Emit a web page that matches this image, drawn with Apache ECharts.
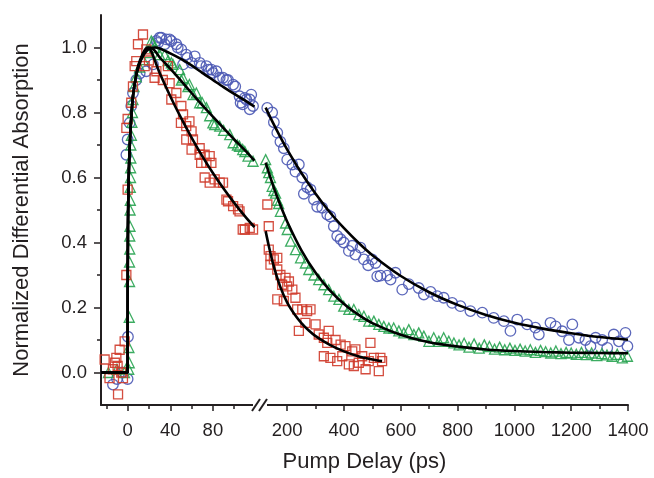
<!DOCTYPE html>
<html>
<head>
<meta charset="utf-8">
<script src="https://cdn.jsdelivr.net/npm/echarts@6/dist/echarts.min.js"></script>
<style>
html,body{margin:0;padding:0;background:#fff;}
#chart{width:654px;height:478px;}
</style>
</head>
<body>
<div id="chart"></div>
<script>
// ---- tick values ----
const yMajorTicks = [0, 0.2, 0.4, 0.6, 0.8, 1.0];
const yMinorTicks = [0.1, 0.3, 0.5, 0.7, 0.9];
const xLeftMajor = [0, 40, 80];
const xLeftMinor = [-20, 20, 60, 100];
const xRightMajor = [200, 400, 600, 800, 1000, 1200, 1400];
const xRightMinor = [300, 500, 700, 900, 1100, 1300];

// ---- data: [delay (ps), normalized absorption] ----
const blueLeft = [[-13.8,-0.037],[-10,-0.02],[-5,0.0],[0,-0.02],[0.3,0.11],[-1.2,0.67],[0,0.717],[1.9,0.768],[3.4,0.82],[5,0.86],[8.1,0.90],[11.3,0.92],[17.5,0.927],[23.8,0.948],[28.5,1.014],[27,1.02],[30,1.03],[31.6,1.03],[34.7,1.01],[36.3,1.025],[39.4,1.025],[41,1.02],[45.7,1.01],[47,1.0],[50.4,0.994],[52,0.948],[55,0.978],[56,0.968],[60,0.953],[63,0.973],[67.6,0.953],[69,0.943],[73.9,0.943],[76,0.932],[78.6,0.932],[80,0.922],[83.3,0.927],[86.4,0.907],[89.5,0.907],[92.7,0.90],[94.2,0.90],[99,0.886],[101,0.88],[105,0.85],[106,0.83],[108,0.825],[110,0.845],[111.4,0.84],[114.6,0.84],[116,0.855],[117.7,0.82],[114.6,0.81]];
const greenLeft = [[-18,0.0],[-10,0.01],[-3,0.0],[1,0.01],[1.5,0.03],[1.2,0.077],[1.5,0.17],[1.8,0.28],[1.8,0.34],[2,0.38],[2,0.42],[2.2,0.45],[2.3,0.5],[2.5,0.53],[2.5,0.57],[2.7,0.6],[2.8,0.63],[3,0.66],[3,0.7],[3.5,0.73],[4,0.77],[4.5,0.8],[5,0.84],[6,0.88],[8.1,0.91],[11.3,0.94],[14.4,0.963],[19,0.984],[22.2,1.02],[23.8,1.014],[25.3,1.0],[30,0.978],[34.7,0.978],[38,0.96],[41,0.953],[42.5,0.948],[48.8,0.932],[50.4,0.90],[52,0.907],[56.6,0.88],[58,0.886],[61.3,0.855],[64.5,0.86],[67.6,0.83],[70,0.83],[73.9,0.815],[77,0.79],[80,0.768],[81.7,0.763],[86.4,0.758],[90,0.745],[95.8,0.732],[99,0.707],[103,0.70],[105,0.696],[108,0.686],[110,0.68],[113,0.666],[117.7,0.65]];
const redLeft = [[-21.6,0.04],[-17,-0.017],[-13.8,0.01],[-12,0.03],[-10.6,0.045],[-9.4,0.02],[-9,-0.067],[-7.5,0.07],[-6,0.0],[-4.4,-0.017],[-2.8,0.096],[-1.2,0.30],[-1.2,0.753],[0,0.563],[0,0.78],[3.4,0.83],[5,0.88],[6.6,0.943],[8.1,0.958],[9.7,1.01],[14.4,1.04],[16,0.943],[17.5,0.994],[20,0.96],[25.3,0.907],[27,0.927],[33,0.90],[37.8,0.943],[39.4,0.89],[41,0.84],[45.7,0.86],[50,0.768],[50.4,0.82],[52,0.794],[55,0.758],[55,0.717],[58,0.773],[60,0.742],[60,0.686],[61.3,0.717],[67.6,0.69],[67.6,0.67],[69,0.645],[72.3,0.6],[72.3,0.67],[73.9,0.645],[77,0.666],[77,0.584],[78.6,0.645],[81.7,0.594],[86.4,0.584],[89.5,0.584],[92.7,0.532],[94.2,0.527],[99,0.512],[103.6,0.502],[105,0.496],[108,0.44],[110,0.44],[114.6,0.445],[117.7,0.44]];

const blueRight = [[129.6,0.814],[147,0.80],[153,0.77],[165,0.738],[176,0.71],[188,0.69],[200,0.655],[218,0.64],[229,0.618],[241,0.64],[253,0.60],[258.6,0.55],[270,0.57],[282,0.563],[294,0.532],[305.6,0.51],[323,0.507],[341,0.486],[352,0.48],[364,0.45],[376,0.42],[388,0.41],[399,0.40],[417,0.374],[429,0.39],[440,0.363],[458,0.384],[470,0.348],[485,0.33],[499,0.348],[511,0.337],[517,0.296],[528.5,0.298],[552,0.298],[564,0.286],[581,0.307],[605,0.255],[628,0.272],[663,0.26],[681,0.24],[705,0.248],[728,0.235],[751,0.23],[781,0.214],[810,0.204],[845,0.189],[887,0.184],[927,0.168],[963,0.158],[986,0.128],[1010,0.163],[1045,0.148],[1074,0.138],[1086,0.117],[1127,0.153],[1145,0.142],[1168,0.127],[1192,0.10],[1204,0.148],[1227,0.107],[1250,0.10],[1268,0.081],[1286,0.107],[1309,0.10],[1327,0.076],[1350,0.117],[1368,0.096],[1391,0.122],[1398,0.081]];
const greenRight = [[124,0.655],[130,0.63],[135,0.615],[141,0.60],[147,0.573],[153,0.56],[159,0.552],[165,0.53],[170,0.52],[176,0.496],[194,0.46],[200,0.44],[212,0.404],[229,0.378],[247,0.353],[264,0.337],[276,0.317],[294,0.30],[311,0.286],[329,0.27],[346,0.255],[364,0.235],[382,0.225],[399,0.204],[417,0.194],[434.5,0.194],[452,0.178],[470,0.173],[487,0.158],[505,0.158],[522.5,0.148],[540,0.142],[558,0.137],[575,0.137],[593,0.128],[610.5,0.122],[628,0.132],[646,0.117],[663,0.122],[681,0.112],[699,0.096],[716,0.107],[734,0.096],[751,0.107],[769,0.096],[787,0.091],[805,0.085],[823,0.09],[840,0.078],[858,0.088],[876,0.075],[894,0.085],[912,0.08],[930,0.072],[948,0.078],[966,0.07],[984,0.075],[1002,0.068],[1020,0.072],[1038,0.066],[1056,0.07],[1074,0.062],[1092,0.068],[1110,0.064],[1128,0.06],[1146,0.066],[1164,0.058],[1182,0.062],[1200,0.06],[1218,0.056],[1236,0.062],[1254,0.055],[1272,0.06],[1290,0.052],[1308,0.058],[1326,0.054],[1344,0.05],[1362,0.056],[1380,0.045],[1398,0.05]];
const redRight = [[130,0.517],[135,0.45],[135,0.378],[141,0.332],[141,0.358],[153,0.348],[165,0.317],[165,0.353],[165,0.225],[176,0.30],[182,0.27],[188,0.22],[194,0.291],[200,0.265],[206,0.28],[218,0.255],[229,0.23],[235,0.194],[241,0.128],[253,0.194],[264,0.153],[270,0.189],[282,0.194],[300,0.148],[311,0.117],[329,0.107],[329,0.05],[341,0.091],[346,0.128],[352,0.045],[370,0.10],[376,0.035],[388,0.086],[394,0.05],[405,0.081],[417,0.025],[429,0.065],[434.5,0.02],[440,0.071],[452,0.03],[464,0.05],[476,0.01],[487,0.035],[493,0.091],[505,0.045],[522.5,0.004],[528,0.045],[534,0.035]];

// ---- fit curves ----
const blueFitLeft = [[-25,0],[0,0],[0.05,0.2],[0.3,0.45],[1,0.6],[2,0.7],[3.5,0.79],[5,0.85],[7.5,0.905],[10,0.94],[14,0.972],[18,0.99],[22,0.998],[26,1.0],[30,0.997],[40,0.982],[50,0.965],[60,0.945],[70,0.922],[80,0.90],[90,0.878],[100,0.857],[110,0.837],[119,0.818]];
const greenFitLeft = [[-25,0],[0,0],[0.05,0.2],[0.3,0.45],[1,0.6],[2,0.7],[3.5,0.79],[5,0.85],[7.5,0.905],[10,0.94],[14,0.975],[18,0.995],[21,1.0],[25,0.992],[30,0.97],[40,0.935],[50,0.898],[60,0.86],[70,0.823],[80,0.787],[90,0.752],[100,0.717],[110,0.684],[119,0.652]];
const redFitLeft = [[-25,0],[0,0],[0.05,0.2],[0.3,0.45],[1,0.6],[2,0.7],[3.5,0.79],[5,0.85],[7.5,0.905],[10,0.945],[14,0.98],[17,0.997],[19,1.0],[22,0.99],[25,0.965],[30,0.922],[40,0.85],[50,0.784],[60,0.723],[70,0.666],[80,0.614],[90,0.566],[100,0.522],[110,0.481],[119,0.447]];
const blueFitRight = [[124,0.815],[150,0.768],[175,0.726],[200,0.686],[250,0.614],[300,0.55],[350,0.493],[400,0.444],[450,0.40],[500,0.361],[600,0.297],[700,0.247],[800,0.208],[900,0.177],[1000,0.153],[1100,0.135],[1200,0.121],[1300,0.109],[1400,0.101]];
const greenFitRight = [[124,0.646],[150,0.576],[175,0.517],[200,0.464],[250,0.376],[300,0.307],[350,0.253],[400,0.211],[450,0.178],[500,0.152],[600,0.116],[700,0.093],[800,0.08],[900,0.071],[1000,0.066],[1100,0.063],[1200,0.061],[1300,0.06],[1400,0.059]];
const redFitRight = [[124,0.435],[135,0.39],[150,0.335],[175,0.265],[200,0.215],[225,0.18],[250,0.152],[275,0.13],[300,0.112],[350,0.085],[400,0.065],[450,0.05],[500,0.04],[534,0.035]];

// ---- styling ----
const FONT = 'Liberation Sans, Arial, sans-serif';
const TXT = '#231f20';
const BLUE = '#4a58b4', GREEN = '#27a350', RED = '#cf3a2a';
const G_TOP = 15, G_H = 390;

const axisLine = {show: true, onZero: false, lineStyle: {color: TXT, width: 2}};
const hiddenLine = {show: false, onZero: false};
const labelStyle = {fontFamily: FONT, fontSize: 18.5, color: TXT};

function scatter(name, data, xi, yi, symbol, size, color) {
  return {
    name, type: 'scatter', data, xAxisIndex: xi, yAxisIndex: yi,
    symbol, symbolSize: size, z: 2,
    itemStyle: {color: 'rgba(0,0,0,0)', borderColor: color, borderWidth: 1.3, opacity: 0.9},
    emphasis: {disabled: true}
  };
}
function fit(name, data, xi, yi) {
  return {
    name, type: 'line', data, xAxisIndex: xi, yAxisIndex: yi,
    showSymbol: false, symbol: 'none', smooth: 0.3, z: 5,
    lineStyle: {color: '#000', width: 2.6}, emphasis: {disabled: true}
  };
}

const option = {
  animation: false,
  backgroundColor: '#fff',
  grid: [
    {left: 101, top: G_TOP, width: 154.5, height: G_H},
    {left: 264.5, top: G_TOP, width: 363.5, height: G_H},
    {left: 101, top: G_TOP, width: 527, height: G_H}
  ],
  xAxis: [
    {gridIndex: 0, type: 'value', position: 'bottom', min: -25, max: 120, axisLine,
     axisTick: {show: true, customValues: xLeftMajor, length: 6, lineStyle: {color: TXT, width: 1.5}},
     axisLabel: {show: true, customValues: xLeftMajor, margin: 16, ...labelStyle, formatter: v => String(v)},
     splitLine: {show: false}},
    {gridIndex: 0, type: 'value', position: 'bottom', min: -25, max: 120, axisLine: hiddenLine,
     axisTick: {show: true, customValues: xLeftMinor, length: 4, lineStyle: {color: TXT, width: 1.5}},
     axisLabel: {show: false}, splitLine: {show: false}},
    {gridIndex: 1, type: 'value', position: 'bottom', min: 120, max: 1400, axisLine,
     axisTick: {show: true, customValues: xRightMajor, length: 6, lineStyle: {color: TXT, width: 1.5}},
     axisLabel: {show: true, customValues: xRightMajor, margin: 16, ...labelStyle, formatter: v => String(v)},
     splitLine: {show: false}},
    {gridIndex: 1, type: 'value', position: 'bottom', min: 120, max: 1400, axisLine: hiddenLine,
     axisTick: {show: true, customValues: xRightMinor, length: 4, lineStyle: {color: TXT, width: 1.5}},
     axisLabel: {show: false}, splitLine: {show: false}},
    {gridIndex: 2, type: 'value', position: 'bottom', min: 0, max: 1, axisLine: hiddenLine, axisTick: {show: false},
     axisLabel: {show: false}, splitLine: {show: false},
     name: 'Pump Delay (ps)', nameLocation: 'middle', nameGap: 49,
     nameTextStyle: {fontFamily: FONT, fontSize: 22, color: TXT}}
  ],
  yAxis: [
    {gridIndex: 0, type: 'value', position: 'left', min: -0.1, max: 1.1, axisLine,
     axisTick: {show: true, customValues: yMajorTicks, length: 7, lineStyle: {color: TXT, width: 1.5}},
     axisLabel: {show: true, customValues: yMajorTicks, margin: 14, ...labelStyle,
       formatter: v => v.toFixed(1)},
     splitLine: {show: false},
     name: 'Normalized Differential Absorption', nameLocation: 'middle', nameGap: 68,
     nameTextStyle: {fontFamily: FONT, fontSize: 22, color: TXT}},
    {gridIndex: 0, type: 'value', position: 'left', min: -0.1, max: 1.1, axisLine: hiddenLine,
     axisTick: {show: true, customValues: yMinorTicks, length: 4, lineStyle: {color: TXT, width: 1.5}},
     axisLabel: {show: false}, splitLine: {show: false}},
    {gridIndex: 1, type: 'value', min: -0.1, max: 1.1, show: false},
    {gridIndex: 2, type: 'value', min: -0.1, max: 1.1, show: false}
  ],
  series: [
    scatter('blueL', blueLeft, 0, 0, 'circle', 10.5, BLUE),
    scatter('greenL', greenLeft, 0, 0, 'triangle', 10, GREEN),
    scatter('redL', redLeft, 0, 0, 'rect', 9, RED),
    scatter('blueR', blueRight, 2, 2, 'circle', 10.5, BLUE),
    scatter('greenR', greenRight, 2, 2, 'triangle', 10, GREEN),
    scatter('redR', redRight, 2, 2, 'rect', 9, RED),
    fit('blueFitL', blueFitLeft, 0, 0),
    fit('greenFitL', greenFitLeft, 0, 0),
    fit('redFitL', redFitLeft, 0, 0),
    fit('blueFitR', blueFitRight, 2, 2),
    fit('greenFitR', greenFitRight, 2, 2),
    fit('redFitR', redFitRight, 2, 2)
  ]
};

const chart = echarts.init(document.getElementById('chart'), null, {renderer: 'canvas'});
chart.setOption(option);

// axis-break marks between the two segments
const xa = chart.convertToPixel({xAxisIndex: 0}, 120);
const xb = chart.convertToPixel({xAxisIndex: 2}, 120);
const ya = chart.convertToPixel({yAxisIndex: 0}, -0.1);
const mid = (xa + xb) / 2;
chart.setOption({
  graphic: [
    {type: 'rect', shape: {x: mid - 7, y: ya - 3, width: 14, height: 6}, style: {fill: '#fff'}, z: 100},
    {type: 'line', shape: {x1: mid - 8, y1: ya + 6, x2: mid, y2: ya - 6}, style: {stroke: TXT, lineWidth: 2}, z: 101},
    {type: 'line', shape: {x1: mid - 1, y1: ya + 6, x2: mid + 7, y2: ya - 6}, style: {stroke: TXT, lineWidth: 2}, z: 101}
  ]
});
</script>
</body>
</html>
